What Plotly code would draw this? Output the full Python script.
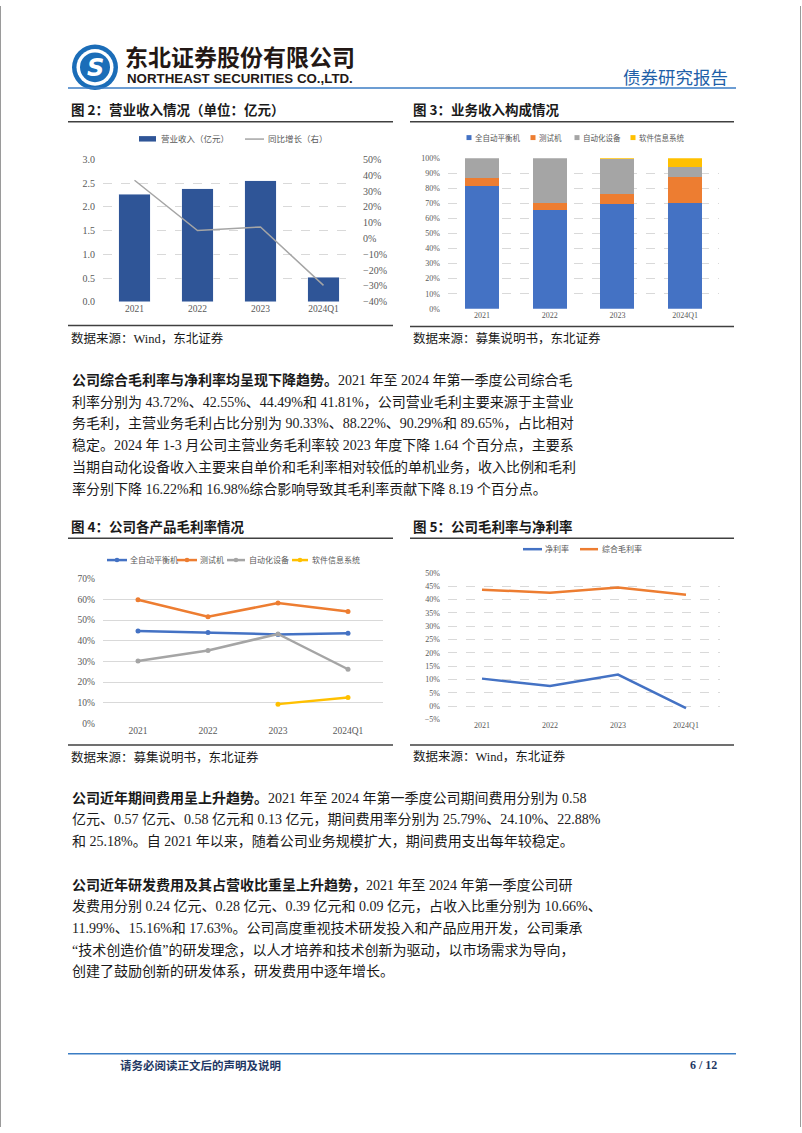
import plotly.graph_objects as go

W, H = 802, 1133
def X(px): return px / W
def Y(py): return 1 - py / H

# ---------------- data ----------------
years = ["2021", "2022", "2023", "2024Q1"]
revenue = [2.27, 2.38, 2.55, 0.52]          # 营业收入（亿元）
yoy = [0.368, 0.050, 0.073, -0.296]          # 同比增长（右）

mix_names = ["全自动平衡机", "测试机", "自动化设备", "软件信息系统"]
mix_balance = [0.813, 0.655, 0.699, 0.700]
mix_tester = [0.055, 0.050, 0.066, 0.175]
mix_auto = [0.132, 0.295, 0.232, 0.070]
mix_soft = [0.000, 0.000, 0.003, 0.055]

gm_balance = [0.447, 0.440, 0.431, 0.436]
gm_tester = [0.599, 0.516, 0.583, 0.542]
gm_auto = [0.302, 0.353, 0.433, 0.262]
gm_soft = [None, None, 0.093, 0.125]

margin_names = ["净利率", "综合毛利率"]
net_margin = [0.103, 0.075, 0.118, -0.008]
gross_margin = [0.4372, 0.4255, 0.4449, 0.4181]

BLUE = "#4472C4"; ORANGE = "#ED7D31"; GRAY = "#A5A5A5"; YELLOW = "#FFC000"
NAVY = "#2F5597"
SERIF = "Liberation Serif, Noto Sans CJK SC"
GRID = "#D9D9D9"
def tick(size): return dict(family=SERIF, size=size, color="#595959")

fig = go.Figure()

# ---------- chart 1 ----------
fig.add_trace(go.Bar(x=years, y=revenue, name="营业收入（亿元）", marker_color=NAVY,
                     xaxis="x", yaxis="y"))
fig.add_trace(go.Scatter(x=years, y=yoy, name="同比增长（右）", mode="lines",
                         line=dict(color=GRAY, width=1.5), xaxis="x", yaxis="y2"))

# ---------- chart 2 ----------
mix_series = [mix_balance, mix_tester, mix_auto, mix_soft]
colors4 = [BLUE, ORANGE, GRAY, YELLOW]
for vals, nm, col in zip(mix_series, mix_names, colors4):
    fig.add_trace(go.Bar(x=years, y=vals, name=nm, marker_color=col, marker_line_width=0,
                         xaxis="x2", yaxis="y3"))

# ---------- chart 3 ----------
gm_series = [gm_balance, gm_tester, gm_auto, gm_soft]
for vals, nm, col in zip(gm_series, mix_names, colors4):
    fig.add_trace(go.Scatter(x=years, y=vals, name=nm, mode="lines+markers",
                             line=dict(color=col, width=2.5), marker=dict(size=5, color=col),
                             xaxis="x3", yaxis="y4"))

# ---------- chart 4 ----------
fig.add_trace(go.Scatter(x=years, y=net_margin, name=margin_names[0], mode="lines",
                         line=dict(color=BLUE, width=2.5), xaxis="x4", yaxis="y5"))
fig.add_trace(go.Scatter(x=years, y=gross_margin, name=margin_names[1], mode="lines",
                         line=dict(color=ORANGE, width=2.5), xaxis="x4", yaxis="y5"))

def xax(x0, x1, anchor, fs):
    return dict(domain=[X(x0), X(x1)], anchor=anchor, type="category", range=[-0.5, 3.5],
                showgrid=False, zeroline=False, showline=False, ticks="", tickfont=tick(fs),
                fixedrange=True)

def yax(py0, py1, anchor, rng, dtick, fmt, fs, dash="dash", side="left", overlay=None, grid=True):
    d = dict(domain=[Y(py1), Y(py0)], anchor=anchor, range=rng, dtick=dtick, tickformat=fmt,
             showgrid=grid, gridcolor=GRID, griddash=dash, gridwidth=1, zeroline=False,
             showline=False, ticks="", tickfont=tick(fs), side=side, ticklabelstandoff=7)
    if overlay:
        d["overlaying"] = overlay
    return d

fig.update_layout(
    width=W, height=H, margin=dict(l=0, r=0, t=0, b=0),
    paper_bgcolor="white", plot_bgcolor="white",
    barmode="stack", bargap=0.5, showlegend=False,
    xaxis=xax(103, 355, "y", 9.5),
    yaxis=yax(155, 299, "x", [0, 3.0], 0.5, ".1f", 10),
    yaxis2=yax(155, 299, "x", [-0.4, 0.5], 0.1, ".0%", 10, side="right", overlay="y", grid=False),
    xaxis2=xax(448, 719, "y3", 8),
    yaxis3=yax(154, 306, "x2", [0, 1.0], 0.1, ".0%", 8),
    xaxis3=xax(103, 383, "y4", 9.5),
    yaxis4=yax(579, 725, "x3", [0, 0.7], 0.1, ".0%", 9.5, dash="solid"),
    xaxis4=xax(448, 720, "y5", 8),
    yaxis5=yax(573, 721, "x4", [-0.05, 0.5], 0.05, ".0%", 8),
)

shapes = []
ann = []
def hline(x0, x1, py, color="#404040", w=1.5):
    shapes.append(dict(type="line", xref="paper", yref="paper", x0=X(x0), x1=X(x1),
                       y0=Y(py), y1=Y(py), line=dict(color=color, width=w)))
def text(px, py, s, size=14, color="#1a1a1a", family=SERIF, xanchor="left"):
    ann.append(dict(xref="paper", yref="paper", x=X(px), y=Y(py), text=s, showarrow=False,
                    xanchor=xanchor, yanchor="middle", font=dict(family=family, size=size, color=color)))
def rect(x0, x1, y0, y1, col):
    shapes.append(dict(type="rect", xref="paper", yref="paper", x0=X(x0), x1=X(x1),
                       y0=Y(y1), y1=Y(y0), fillcolor=col, line=dict(width=0)))
def dot(cx, cy, r, col):
    shapes.append(dict(type="circle", xref="paper", yref="paper", x0=X(cx - r), x1=X(cx + r),
                       y0=Y(cy + r), y1=Y(cy - r), fillcolor=col, line=dict(width=0)))

LEG = "#595959"
# legend chart 1
rect(139, 156, 131.5, 137, NAVY)
text(159, 134, "营业收入（亿元）", size=8.5, color=LEG)
hline(245, 264, 134.5, color=GRAY, w=1.5)
text(266, 134, "同比增长（右）", size=8.5, color=LEG)
# legend chart 2
for cxp, txp, nm, col in zip([469, 533, 577, 633], [473, 537, 581, 637], mix_names, colors4):
    rect(cxp - 2.5, cxp + 2.5, 130.5, 135.5, col)
    text(txp, 133, nm, size=7.5, color=LEG)
# legend chart 3
for x0, x1, txp, nm, col in zip([107, 177, 227, 292], [127, 197, 245, 308], [128, 198, 247, 310],
                                mix_names, colors4):
    hline(x0, x1, 560, color=col, w=2.5)
    dot((x0 + x1) / 2, 560, 2.3, col)
    text(txp, 560, nm, size=8, color=LEG)
# legend chart 4
for x0, x1, txp, nm, col in zip([523, 580], [542, 598], [543, 600], margin_names, [BLUE, ORANGE]):
    hline(x0, x1, 549, color=col, w=2.5)
    text(txp, 549, nm, size=8, color=LEG)

# page edges
shapes.append(dict(type="line", xref="paper", yref="paper", x0=X(0.5), x1=X(0.5), y0=0, y1=1,
                   line=dict(color="#9a9a9a", width=1)))
shapes.append(dict(type="line", xref="paper", yref="paper", x0=X(800.5), x1=X(800.5), y0=0, y1=1,
                   line=dict(color="#9a9a9a", width=1)))

# header
LOGO = "#1B6DB8"
cx, cy = 95, 62
for r, col in [(23, LOGO), (18.5, "white"), (15, LOGO)]:
    dot(cx, cy, r, col)
text(cx, cy + 1, "<b><i>S</i></b>", size=24, color="white", family="DejaVu Sans", xanchor="center")
text(123, 51, "<b>东北证券股份有限公司</b>", size=23, color="#231815", family="Noto Sans CJK SC")
text(125, 73, "<b>NORTHEAST SECURITIES CO.,LTD.</b>", size=13.3, color="#231815", family="Liberation Sans")
text(621, 71, "债券研究报告", size=17.5, color="#1F5FA8", family="Noto Sans CJK SC")
hline(68, 736, 83, color="#3B7DC4", w=1.5)

# figure titles / rules / sources
TF = "Noto Sans CJK SC"
text(69, 104, "<b>图 2：营业收入情况（单位：亿元）</b>", size=13.5, family=TF)
text(411, 104, "<b>图 3：业务收入构成情况</b>", size=13.5, family=TF)
hline(68, 393, 117); hline(410, 734, 117)
hline(68, 393, 323); hline(410, 734, 324)
text(69, 336, "数据来源：Wind，东北证券", size=12.5)
text(411, 336, "数据来源：募集说明书，东北证券", size=12.5)

text(69, 526, "<b>图 4：公司各产品毛利率情况</b>", size=13.5, family=TF)
text(411, 526, "<b>图 5：公司毛利率与净利率</b>", size=13.5, family=TF)
hline(68, 393, 538); hline(410, 734, 538)
hline(68, 393, 747); hline(410, 734, 747)
text(69, 760, "数据来源：募集说明书，东北证券", size=12.5)
text(411, 759, "数据来源：Wind，东北证券", size=12.5)

# body text
p1 = ["<b>公司综合毛利率与净利率均呈现下降趋势。</b>2021 年至 2024 年第一季度公司综合毛",
      "利率分别为 43.72%、42.55%、44.49%和 41.81%，公司营业毛利主要来源于主营业",
      "务毛利，主营业务毛利占比分别为 90.33%、88.22%、90.29%和 89.65%，占比相对",
      "稳定。2024 年 1-3 月公司主营业务毛利率较 2023 年度下降 1.64 个百分点，主要系",
      "当期自动化设备收入主要来自单价和毛利率相对较低的单机业务，收入比例和毛利",
      "率分别下降 16.22%和 16.98%综合影响导致其毛利率贡献下降 8.19 个百分点。"]
p2 = ["<b>公司近年期间费用呈上升趋势。</b>2021 年至 2024 年第一季度公司期间费用分别为 0.58",
      "亿元、0.57 亿元、0.58 亿元和 0.13 亿元，期间费用率分别为 25.79%、24.10%、22.88%",
      "和 25.18%。自 2021 年以来，随着公司业务规模扩大，期间费用支出每年较稳定。"]
p3 = ["<b>公司近年研发费用及其占营收比重呈上升趋势，</b>2021 年至 2024 年第一季度公司研",
      "发费用分别 0.24 亿元、0.28 亿元、0.39 亿元和 0.09 亿元，占收入比重分别为 10.66%、",
      "11.99%、15.16%和 17.63%。公司高度重视技术研发投入和产品应用开发，公司秉承",
      "“技术创造价值”的研发理念，以人才培养和技术创新为驱动，以市场需求为导向，",
      "创建了鼓励创新的研发体系，研发费用中逐年增长。"]
for i, s in enumerate(p1):
    text(70, 378 + 22 * i, s, size=14)
for i, s in enumerate(p2):
    text(70, 800 + 22 * i, s, size=14)
for i, s in enumerate(p3):
    text(70, 888 + 22 * i, s, size=14)

# footer
hline(68, 736, 1059, color="#3B7DC4", w=1.5)
text(118, 1070, "<b>请务必阅读正文后的声明及说明</b>", size=11.5, color="#1F3864", family=TF)
text(719, 1070, "<b>6 / 12</b>", size=12, color="#1F3864", family=SERIF, xanchor="right")

fig.update_layout(shapes=shapes, annotations=ann)
fig.write_html("out.html", config={"displayModeBar": False},
               post_script="document.body.style.margin='0';document.body.style.overflow='hidden';"
                           "document.documentElement.style.overflow='hidden';")
